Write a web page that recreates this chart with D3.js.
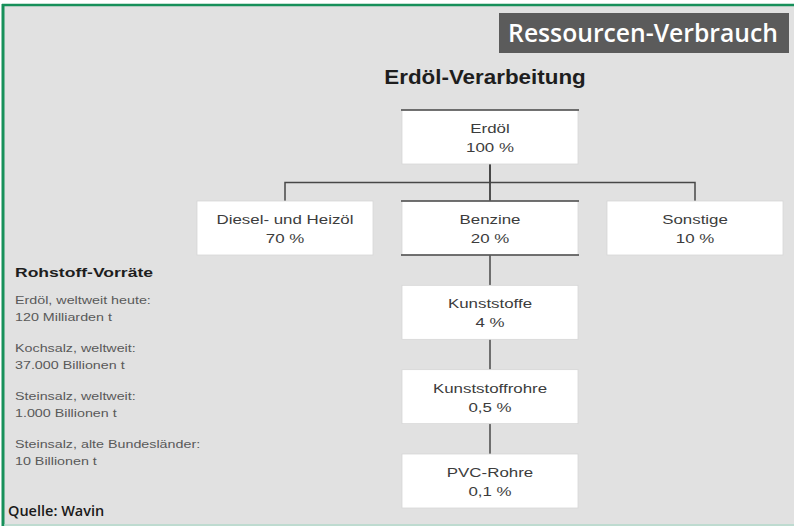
<!DOCTYPE html>
<html>
  <head>
    <meta charset="utf-8" />
    <title>Erdöl-Verarbeitung</title>
    <script src="https://d3js.org/d3.v7.min.js"></script>
    <style>
      body { margin: 0; background: #fff; }
      svg { display: block; }
    </style>
  </head>
  <body>
    <svg id="viz"></svg>
    <script>

    // data
    var nodeIds = ["erdoel", "diesel", "benzin", "sonst", "kunst", "rohre", "pvc"];
    var nodeParents = ["", "erdoel", "erdoel", "erdoel", "benzin", "kunst", "rohre"];
    var nodeNames = ["Erdöl", "Diesel- und Heizöl", "Benzine", "Sonstige", "Kunststoffe", "Kunststoffrohre", "PVC-Rohre"];
    var nodeShares = ["100 %", "70 %", "20 %", "10 %", "4 %", "0,5 %", "0,1 %"];

    var reserveNames = ["Erdöl, weltweit heute:", "Kochsalz, weltweit:", "Steinsalz, weltweit:", "Steinsalz, alte Bundesländer:"];
    var reserveAmounts = ["120 Milliarden t", "37.000 Billionen t", "1.000 Billionen t", "10 Billionen t"];

    var width = 794, height = 526;
    var sx = 1.3; // original lettering is stretched sideways

    var svg = d3.select("#viz").attr("width", width).attr("height", height);

    // panel + frame
    svg.append("rect").attr("x", 4).attr("y", 6).attr("width", width - 4).attr("height", height - 8)
      .attr("fill", "#e1e1e1");
    svg.append("line").attr("x1", 2).attr("x2", width).attr("y1", 5).attr("y2", 5)
      .attr("stroke", "#17905a").attr("stroke-width", 2.5);
    svg.append("line").attr("x1", 3).attr("x2", 3).attr("y1", 4).attr("y2", height)
      .attr("stroke", "#17905a").attr("stroke-width", 3);
    svg.append("line").attr("x1", 4).attr("x2", width).attr("y1", 525).attr("y2", 525)
      .attr("stroke", "#a9cfc0").attr("stroke-width", 1.5);

    // header badge
    svg.append("rect").attr("x", 499).attr("y", 13).attr("width", 290).attr("height", 40)
      .attr("fill", "#5b5b5b");
    svg.append("text").attr("x", 643).attr("y", 42)
      .attr("text-anchor", "middle")
      .style("font-family", "'Open Sans'").style("font-weight", 600).style("font-size", "24.7px")
      .attr("fill", "#fff")
      .text("Ressourcen-Verbrauch");

    function stretched(g, x, y, str, anchor, k) {
      return g.append("text")
        .attr("transform", "translate(" + x + "," + y + ") scale(" + (k || sx) + ",1)")
        .attr("text-anchor", anchor)
        .text(str);
    }

    // title
    stretched(svg, 485, 84, "Erdöl-Verarbeitung", "middle", 1.12)
      .style("font-family", "'Liberation Sans', Arial").style("font-weight", "bold")
      .style("font-size", "20px").attr("fill", "#1e1e1e");

    // tree
    var root = d3.stratify()
      .id(function(d) { return d.id; })
      .parentId(function(d) { return d.parent || null; })
      (nodeIds.map(function(id, i) {
        return { id: id, parent: nodeParents[i], name: nodeNames[i], share: nodeShares[i] };
      }));

    d3.tree().nodeSize([1, 1])(root);

    var boxW = 176, boxH = 54;
    var x = d3.scaleLinear().domain([-1, 1]).range([285, 695]);
    var y = d3.scaleLinear().domain([0, 1, 4]).range([110, 201, 454]);

    var links = svg.append("g")
      .attr("fill", "none").attr("stroke", "#474747").attr("stroke-width", 1.5);

    root.links().forEach(function(l) {
      var px = x(l.source.x), py = y(l.source.depth) + boxH;
      var cx = x(l.target.x), cy = y(l.target.depth);
      var my = (py + cy) / 2;
      var p = d3.path();
      if (px === cx) {
        p.moveTo(px, py); p.lineTo(cx, cy);
      } else {
        p.moveTo(px, py); p.lineTo(px, my); p.lineTo(cx, my); p.lineTo(cx, cy);
      }
      links.append("path").attr("d", p.toString());
    });
    // trunk from the root to the elbow bar
    links.append("line")
      .attr("x1", x(root.x)).attr("x2", x(root.x))
      .attr("y1", y(0) + boxH).attr("y2", y(1));

    var nodes = svg.append("g").selectAll("g")
      .data(root.descendants())
      .join("g")
      .attr("transform", function(d) {
        return "translate(" + (x(d.x) - boxW / 2) + "," + y(d.depth) + ")";
      });

    nodes.append("rect")
      .attr("width", boxW).attr("height", boxH)
      .attr("fill", "#fff").attr("stroke", "#d6d6d6").attr("stroke-width", 0.8);

    // dark rules on the junction boxes
    nodes.filter(function(d) { return d.children && d.children.length > 1 || d.id === "benzin"; })
      .append("line")
      .attr("x1", -1).attr("x2", boxW + 1).attr("y1", 0).attr("y2", 0)
      .attr("stroke", "#474747").attr("stroke-width", 1.5);
    nodes.filter(function(d) { return d.id === "benzin"; })
      .append("line")
      .attr("x1", -1).attr("x2", boxW + 1).attr("y1", boxH).attr("y2", boxH)
      .attr("stroke", "#474747").attr("stroke-width", 1.5);

    nodes.each(function(d) {
      var g = d3.select(this);
      [d.data.name, d.data.share].forEach(function(s, i) {
        stretched(g, boxW / 2, 23 + i * 19, s, "middle")
          .style("font-family", "'Liberation Sans', Arial").style("font-size", "13px")
          .attr("fill", "#3c3c3c");
      });
    });

    // reserves panel
    var left = svg.append("g");
    stretched(left, 15, 277, "Rohstoff-Vorräte", "start")
      .style("font-family", "'Liberation Sans', Arial").style("font-weight", "bold")
      .style("font-size", "13.5px").attr("fill", "#1e1e1e");

    var ry = d3.scalePoint().domain(d3.range(reserveNames.length)).range([304, 448]);
    reserveNames.forEach(function(n, i) {
      [n, reserveAmounts[i]].forEach(function(s, j) {
        stretched(left, 15, ry(i) + j * 17, s, "start")
          .style("font-family", "'Liberation Sans', Arial").style("font-size", "11px")
          .attr("fill", "#595959");
      });
    });

    // source
    svg.append("text").attr("x", 8).attr("y", 516)
      .style("font-family", "'Open Sans'").style("font-weight", 600).style("font-size", "14.5px")
      .attr("fill", "#1a1a1a")
      .text("Quelle: Wavin");

    </script>
  </body>
</html>
